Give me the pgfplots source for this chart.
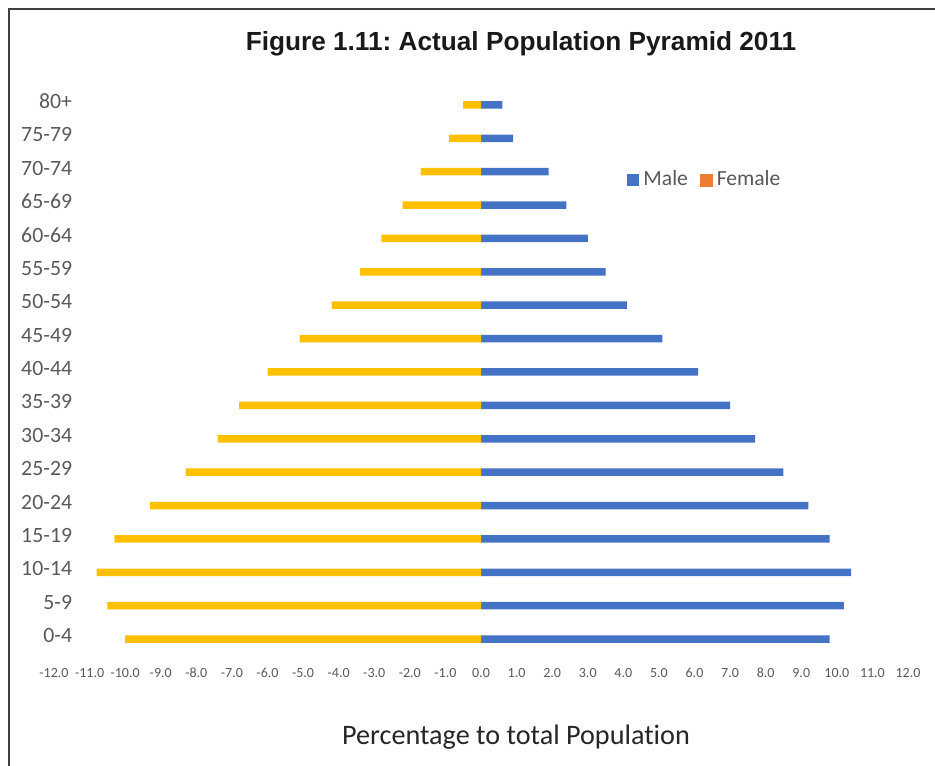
\documentclass[border=0pt]{standalone}
\usepackage{fontspec}
\setmainfont{Carlito}[Ligatures=NoCommon]
\newfontfamily\arialfont{Liberation Sans}
\usepackage{pgfplots}
\pgfplotsset{compat=1.18}
\usepackage{pgfplotstable}
\definecolor{maleblue}{HTML}{4472C4}
\definecolor{femyellow}{HTML}{FFC000}
\definecolor{femorange}{HTML}{ED7D31}
\definecolor{txtgray}{HTML}{595959}

\pgfplotstableread{
idx male female
0 9.8 -10.0
1 10.2 -10.5
2 10.4 -10.8
3 9.8 -10.3
4 9.2 -9.3
5 8.5 -8.3
6 7.7 -7.4
7 7.0 -6.8
8 6.1 -6.0
9 5.1 -5.1
10 4.1 -4.2
11 3.5 -3.4
12 3.0 -2.8
13 2.4 -2.2
14 1.9 -1.7
15 0.9 -0.9
16 0.6 -0.5
}\pyr

\begin{document}
\frenchspacing
\begin{tikzpicture}
\useasboundingbox (0,0) rectangle (467.5pt,382.5pt);
\draw[line width=0.9pt, color=black!75] (4.5pt,-2pt) -- (4.5pt,378pt) -- (470pt,378pt);
\node[font=\arialfont\bfseries\fontsize{13.1}{15}\selectfont, text=black!90] at (260.5pt,360.5pt) {Figure 1.11: Actual Population Pyramid 2011};
\node[font=\fontsize{14.1}{16}\selectfont, text=black!85] at (258pt,14pt) {Percentage to total Population};
\begin{axis}[
 at={(27pt,46.3pt)}, anchor=south west, scale only axis,
 width=427pt, height=300.4pt,
 xmin=-12, xmax=12, ymin=-1, ymax=17,
 axis line style={draw=none}, major tick length=0pt,
 xtick={-12,-11,...,12},
 ytick={0,1,...,16},
 yticklabels={0-4,5-9,10-14,15-19,20-24,25-29,30-34,35-39,40-44,45-49,50-54,55-59,60-64,65-69,70-74,75-79,80+},
 xticklabel style={font=\fontsize{7}{8}\selectfont, text=txtgray, anchor=base, inner sep=0pt, yshift=-2.3pt},
 yticklabel style={font=\fontsize{10.9}{12}\selectfont, text=txtgray, anchor=east, inner sep=0pt, xshift=9.25pt, yshift=1.75pt},
 /pgf/number format/fixed, /pgf/number format/fixed zerofill, /pgf/number format/precision=1,
 /pgf/number format/assume math mode=true,
 legend style={at={(0.671,0.8196)}, anchor=west, draw=none, fill=none, legend columns=2,
   font=\fontsize{10.8}{12}\selectfont, text=txtgray, inner sep=0pt,
   nodes={inner xsep=2pt},
   /tikz/every even column/.append style={column sep=4pt}},
 legend cell align=left,
]
\addplot[xbar, bar width=3.75pt, bar shift=0pt, fill=maleblue, draw=none,
  legend image code/.code={\fill[maleblue] (0pt,-3pt) rectangle (6pt,3pt);}]
  table[x=male,y=idx]{\pyr};
\addlegendentry{Male}
\addplot[xbar, bar width=3.75pt, bar shift=0pt, fill=femyellow, draw=none, forget plot]
  table[x=female,y=idx]{\pyr};
\addlegendimage{legend image code/.code={\fill[femorange] (0pt,-3pt) rectangle (6pt,3pt);}}
\addlegendentry{Female}
\end{axis}
\end{tikzpicture}
\end{document}
